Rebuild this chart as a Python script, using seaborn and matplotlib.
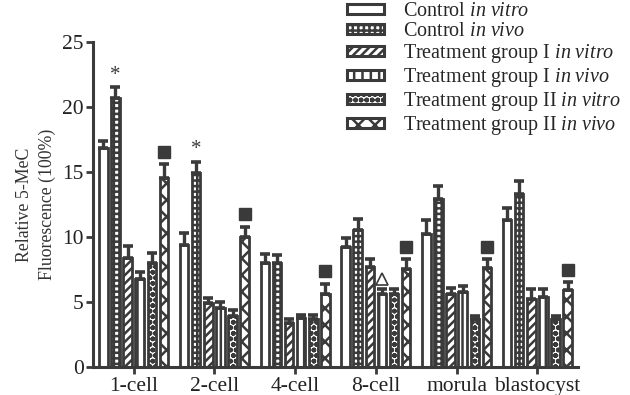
import numpy as np
import pandas as pd
import matplotlib
matplotlib.use("Agg")
import matplotlib.pyplot as plt
import seaborn as sns

sns.set_theme(style="ticks")
plt.rcParams['font.family'] = ['Liberation Serif', 'DejaVu Serif']
plt.rcParams['mathtext.fontset'] = 'custom'
plt.rcParams['mathtext.rm'] = 'Liberation Serif'
plt.rcParams['mathtext.it'] = 'Liberation Serif:italic'
plt.rcParams['hatch.linewidth'] = 1.8
plt.rcParams['hatch.color'] = '#3a3a3a'

DARK = '#3a3a3a'

stages = ["1-cell", "2-cell", "4-cell", "8-cell", "morula", "blastocyst"]
groups = [
    r"Control $\mathit{in\ vitro}$",
    r"Control $\mathit{in\ vivo}$",
    r"Treatment group I $\mathit{in\ vitro}$",
    r"Treatment group I $\mathit{in\ vivo}$",
    r"Treatment group II $\mathit{in\ vitro}$",
    r"Treatment group II $\mathit{in\ vivo}$",
]
hatches = ["", "+++", "////", "||", "ooo", "xx"]

# mean values per group, one entry per stage
ctrl_vitro = [16.8, 9.4, 8.0, 9.2, 10.2, 11.3]
ctrl_vivo = [20.7, 14.9, 8.0, 10.5, 12.9, 13.3]
t1_vitro = [8.4, 4.9, 3.4, 7.7, 5.6, 5.2]
t1_vivo = [6.8, 4.5, 3.8, 5.6, 5.8, 5.4]
t2_vitro = [8.0, 3.9, 3.7, 5.6, 3.7, 3.7]
t2_vivo = [14.5, 10.0, 5.6, 7.5, 7.6, 5.9]

# upper error (SEM)
ctrl_vitro_err = [0.6, 0.9, 0.7, 0.7, 1.1, 0.9]
ctrl_vivo_err = [0.8, 0.9, 0.6, 0.9, 1.0, 1.0]
t1_vitro_err = [0.9, 0.4, 0.3, 0.6, 0.5, 0.8]
t1_vivo_err = [0.5, 0.5, 0.2, 0.4, 0.4, 0.6]
t2_vitro_err = [0.8, 0.5, 0.3, 0.4, 0.2, 0.2]
t2_vivo_err = [1.1, 0.8, 0.8, 0.8, 0.7, 0.6]

values = [ctrl_vitro, ctrl_vivo, t1_vitro, t1_vivo, t2_vitro, t2_vivo]
errors = [ctrl_vitro_err, ctrl_vivo_err, t1_vitro_err, t1_vivo_err, t2_vitro_err, t2_vivo_err]

df = pd.DataFrame({
    "stage": np.repeat([stages], len(groups), axis=0).ravel(),
    "group": np.repeat(groups, len(stages)),
    "value": np.concatenate(values),
    "err": np.concatenate(errors),
})

fig = plt.figure(figsize=(6.3, 3.95), dpi=100)
ax = fig.add_axes([0.148, 0.071, 0.769, 0.823])

sns.barplot(data=df, x="stage", y="value", hue="group", order=stages, hue_order=groups,
            errorbar=None, width=0.9, gap=0.3, ax=ax, legend=False,
            palette=["white"] * len(groups),
            edgecolor=DARK, linewidth=2.0)

bar_containers = list(ax.containers)
tops = {}
for gi, cont in enumerate(bar_containers):
    for si, bar in enumerate(cont):
        bar.set_hatch(hatches[gi])
        bar.set_facecolor("white")
        bar.set_edgecolor(DARK)
        xc = bar.get_x() + bar.get_width() / 2
        h = values[gi][si]
        e = errors[gi][si]
        ax.errorbar(xc, h, yerr=[[0], [e]], fmt="none", ecolor=DARK,
                    elinewidth=2.4, capsize=3.5, capthick=2.6, zorder=1)
        tops[(gi, si)] = (xc, h + e)

# significance markers
for si in range(len(stages)):
    xc, top = tops[(5, si)]
    ax.plot(xc, top + 0.95, marker="s", ms=9, color=DARK, clip_on=False)
for si in [0, 1]:
    xc, top = tops[(1, si)]
    ax.text(xc, top + 0.2, "*", ha="center", va="bottom", fontsize=15, color=DARK)
xc, top = tops[(3, 3)]
ax.plot(xc, top + 0.8, marker="^", ms=8, mfc="white", mec=DARK, mew=1.2)

ax.set_xlim(-0.5, 5.5)
ax.set_ylim(0, 25)
ax.set_yticks([0, 5, 10, 15, 20, 25])
ax.set_xlabel("")
ax.set_ylabel("Relative 5-MeC\nFluorescence (100%)", fontsize=12.8, color="#333333",
              linespacing=1.45)
ax.tick_params(axis="both", labelsize=15.5, colors=DARK, labelcolor="#222222",
               width=2, length=5, direction="out", pad=2)
for sp in ["top", "right"]:
    ax.spines[sp].set_visible(False)
for sp in ["left", "bottom"]:
    ax.spines[sp].set_linewidth(2.2)
    ax.spines[sp].set_color(DARK)

handles = [plt.Rectangle((0, 0), 1, 1, facecolor="white", edgecolor=DARK,
                         linewidth=2.2, hatch=h) for h in hatches]
fig.legend(handles, groups, loc="upper left", bbox_to_anchor=(0.551, 0.995),
           frameon=False, fontsize=14.5, handlelength=1.85, handleheight=0.4,
           labelspacing=0.05, handletextpad=0.9, borderaxespad=0.0, borderpad=0.0)

fig.savefig("out.png", dpi=100)
